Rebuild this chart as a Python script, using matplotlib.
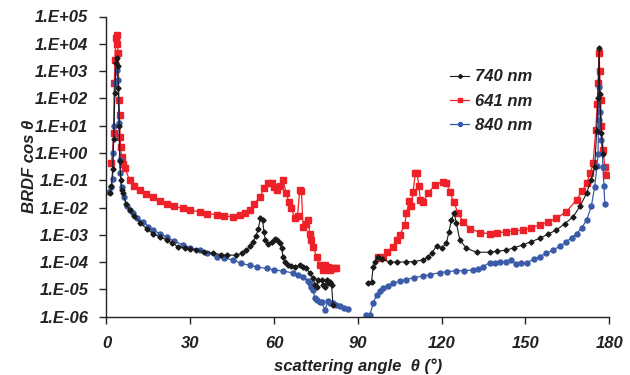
import numpy as np
import matplotlib
matplotlib.use('Agg')
import matplotlib.pyplot as plt

plt.rcParams['font.family'] = ['Liberation Sans', 'DejaVu Sans']
plt.rcParams['font.weight'] = 'bold'
plt.rcParams['font.style'] = 'italic'

# 641 nm (red)
red_ang = [1.8, 2.6, 2.8, 3.0, 3.3, 3.6, 3.9, 4.2, 4.4, 4.7, 4.9, 5.1, 5.4, 5.9, 6.6, 8.3, 10, 11.9, 14,
           16.7, 19, 21.5, 24, 27.4, 30, 33.4, 36, 39.4, 42, 45.3, 47.7, 49.5, 51.3, 53, 54.9, 56.5,
           57.9, 59.1, 60.1, 60.9, 62.2, 63.2, 64.4, 65.3, 66.2, 67.4, 68.4, 69.2, 69.8, 70.4, 71.4,
           72.2, 72.8, 73.4, 74.0, 75.2, 76.4, 77.6, 78.4, 79.3, 80.0, 80.6, 81.7, 82.3,
           None,
           97.2, 97.9, 99.0, 100.3, 102.6, 104, 105.0, 106.8, 107.4, 108.4, 109.2, 109.8, 110.6, 111.2,
           111.8, 112.4, 113.4, 115.1, 117.5, 120.5, 121.7, 122.9, 124.3, 125.9, 127.7, 130.1, 133.7,
           137.2, 140, 143.2, 146, 149.2, 152, 155.1, 158, 161.1, 164.7, 168.3, 170.3, 171.9, 173.2,
           174.2, 175.2, 175.7, 176.0, 176.4, 176.6, 176.9, 177.2, 177.8, 178.4, 179.0]
red_val = [0.42, 5.2, 355, 2500, 1.6e4, 2.1e4, 1.0e4, 4500, 87, 25, 3.9, 1.7, 0.72, 0.40, 0.28, 0.10,
           0.063, 0.044, 0.032, 0.025, 0.018, 0.014, 0.011, 0.0093, 0.0079, 0.0071, 0.006, 0.0054,
           0.0049, 0.0046, 0.0054, 0.0063, 0.0081, 0.0135, 0.025, 0.05, 0.078, 0.078, 0.056, 0.044,
           0.063, 0.10, 0.033, 0.016, 0.0093, 0.004, 0.005, 0.044, 0.04, 0.002, 0.0025, 0.0035,
           0.0011, 6.5e-4, 3.6e-4, 1.6e-4, 7.8e-5, 5.1e-5, 7.8e-5, 6.8e-5, 5.1e-5, 6.3e-5, 5.9e-5,
           5.9e-5,
           None,
           1.6e-4, 1.4e-4, 1.6e-4, 2.4e-4, 3.6e-4, 6.3e-4, 9.8e-4, 2.3e-3, 6.2e-3, 0.018, 0.011,
           0.038, 0.19, 0.19, 0.062, 0.019, 0.016, 0.033, 0.066, 0.089, 0.081, 0.038, 0.016, 0.0062,
           0.003, 0.0017, 0.0012, 0.0011, 0.00117, 0.0013, 0.00138, 0.0015, 0.0018, 0.0023, 0.003,
           0.004, 0.0071, 0.019, 0.04, 0.078, 0.18, 0.42, 6.9, 63, 355, 4500, 1000, 87, 10, 1.3,
           0.31, 0.155]

# 740 nm (black)
blk_ang = [1.2, 1.8, 2.2, 2.6, 3.0, 3.4, 3.7, 4.0, 4.3, 4.6, 4.8, 5.1, 5.4, 5.9, 7.0, 8.3, 10, 12,
           14.5, 16.7, 19, 21.5, 23.5, 25.6, 28, 30, 32.2, 35, 38.2, 41, 43, 46.5, 48.5, 50.1, 51.5,
           52.5, 53.5, 54.3, 55.1, 55.9, 56.4, 56.9, 58.0, 59.1, 60.2, 60.9, 62.0, 62.7, 63.2, 64.0,
           65.0, 66.2, 67.4, 69.2, 70.4, 71.6, 72.8, 74.0, 74.6, 75.2, 75.8, 77.0, 77.6, 78.2, 78.8,
           79.3, 80.0, 80.6, 81.1,
           None,
           93.7, 94.9, 95.5, 96.1, 97.2, 98.5, 101.4, 104, 107.4, 110, 113.4, 115, 116.4, 118.2, 120.0,
           121.7, 122.6, 123.5, 124.5, 125.3, 126.5, 128.9, 132.5, 137.2, 140, 143.2, 146, 149.2, 152,
           155.1, 158, 161.1, 164, 167.1, 169.5, 171.9, 173.5, 174.8, 175.5, 176.0, 176.4, 176.6,
           177.2, 177.8]
blk_val = [0.035, 0.063, 0.25, 3.2, 160, 2000, 3000, 1600, 230, 10, 0.5, 0.1, 0.044, 0.033, 0.014,
           0.0081, 0.005, 0.0028, 0.0016, 0.0011, 8.3e-4, 6.5e-4, 5e-4, 3.6e-4, 3.3e-4, 3e-4,
           2.75e-4, 2.4e-4, 2.1e-4, 1.9e-4, 1.8e-4, 1.8e-4, 2.1e-4, 2.75e-4, 4e-4, 5.6e-4, 8.9e-4,
           1.6e-3, 4e-3, 3.5e-3, 1.26e-3, 6.5e-4, 4.5e-4, 5.6e-4, 6.8e-4, 6.5e-4, 4.9e-4, 3.2e-4,
           1.6e-4, 1e-4, 7.8e-5, 7.1e-5, 6.8e-5, 7.6e-5, 6.8e-5, 5.9e-5, 3.9e-5, 2.6e-5, 1.45e-5,
           1.26e-5, 2.2e-5, 2.2e-5, 1.45e-5, 1.26e-5, 2.2e-5, 1.66e-5, 1.8e-5, 1.45e-5, 2.7e-6,
           None,
           1.66e-5, 1.9e-5, 6.8e-5, 1.02e-4, 1.6e-4, 1.26e-4, 1.02e-4, 1e-4, 1.02e-4, 1.05e-4, 1.2e-4,
           1.5e-4, 2.1e-4, 3.9e-4, 3.2e-4, 4.9e-4, 1.26e-3, 3.5e-3, 6.2e-3, 2.6e-3, 6.5e-4, 3.2e-4,
           2.3e-4, 2.3e-4, 2.5e-4, 2.75e-4, 3.4e-4, 4.3e-4, 5.6e-4, 7.4e-4, 1.05e-3, 1.5e-3, 2.5e-3,
           4.6e-3, 0.011, 0.033, 0.1, 0.31, 6.3, 100, 6800, 150, 5.2, 0.95]

# 840 nm (blue)
blu_ang = [0.9, 1.8, 2.2, 2.4, 2.6, 3.0, 3.6, 4.2, 4.4, 4.8, 5.0, 5.4, 6.2, 7.2, 8.3, 9.5, 11, 13.1,
           15, 16.7, 19, 21.5, 24, 27.4, 30, 33.4, 36, 39.4, 42, 45.3, 48, 51.3, 54, 57.3, 60, 63.2,
           66.8, 68.6, 70.4, 72, 72.8, 73.4, 74.0, 74.6, 75.2, 76.4, 77.0, 78.2, 79.3, 80.2, 81.1,
           82.3, 83.5, 85, 86.5,
           None,
           93.1, 94.3, 95.5, 96.7, 98, 99.0, 100.8, 102.6, 105, 107.4, 110, 113.4, 116, 119.3, 122,
           125.3, 128, 131.3, 133, 134.8, 137.2, 139, 140.8, 143.2, 145.0, 146.8, 148.5, 150.4, 153,
           155.1, 157.5, 159.9, 162.3, 164.7, 166.5, 168.3, 170.2, 171.9, 173.6, 174.8, 175.6, 176.0,
           176.2, 176.4, 176.8, 177.2, 177.8, 178.1, 178.4]
blu_val = [0.038, 0.058, 0.11, 1.0, 10, 355, 1100, 470, 12, 0.55, 0.18, 0.058, 0.025, 0.011, 0.0079,
           0.0062, 0.0042, 0.003, 0.002, 0.0015, 0.0011, 8.5e-4, 6e-4, 4.3e-4, 3.4e-4, 2.75e-4,
           2.2e-4, 1.6e-4, 1.4e-4, 1.2e-4, 9.1e-5, 7.6e-5, 6.6e-5, 5.9e-5, 5.2e-5, 4.7e-5, 4e-5,
           3.3e-5, 2.75e-5, 2.1e-5, 1.66e-5, 1.26e-5, 9.5e-6, 4.7e-6, 4.1e-6, 3.5e-6, 3.5e-6, 1.8e-6,
           3.7e-6, 3.2e-6, 3.1e-6, 2.7e-6, 2.45e-6, 2.1e-6, 1.9e-6,
           None,
           1.15e-6, 1.15e-6, 3.1e-6, 6.2e-6, 8.9e-6, 1.1e-5, 1.38e-5, 1.66e-5, 2e-5, 2.3e-5, 2.7e-5,
           3.1e-5, 3.5e-5, 4.1e-5, 4.5e-5, 4.8e-5, 4.9e-5, 5.1e-5, 5.6e-5, 6.8e-5, 9.5e-5, 9.3e-5,
           1.02e-4, 1.02e-4, 1.2e-4, 8.5e-5, 8.9e-5, 9.5e-5, 1.26e-4, 1.6e-4, 2.1e-4, 2.75e-4,
           3.8e-4, 5.6e-4, 7.9e-4, 1.1e-3, 1.8e-3, 3.5e-3, 0.011, 0.058, 0.32, 0.95, 16, 260, 32,
           3.0, 0.31, 0.063, 0.014]

yticks = [1e-6, 1e-5, 1e-4, 1e-3, 1e-2, 1e-1, 1e0, 1e1, 1e2, 1e3, 1e4, 1e5]
ytick_labels = ['1.E-06', '1.E-05', '1.E-04', '1.E-03', '1.E-02', '1.E-01',
                '1.E+00', '1.E+01', '1.E+02', '1.E+03', '1.E+04', '1.E+05']
xticks = [0, 30, 60, 90, 120, 150, 180]


def arr(a):
    return np.array([np.nan if v is None else v for v in a], dtype=float)


fig = plt.figure(figsize=(6.3, 3.75), dpi=100)
ax = fig.add_axes([0.169, 0.1555, 0.798, 0.8005])

red_c = '#ee2028'
blu_c = '#3b5ba8'
blk_c = '#1a1a1a'

l_red, = ax.plot(arr(red_ang), arr(red_val), color=red_c, lw=0.9, marker='s', ms=4.2,
                 mec=red_c, mfc=red_c, label='641 nm')
l_blu, = ax.plot(arr(blu_ang), arr(blu_val), color=blu_c, lw=0.9, marker='o', ms=3.6,
                 mec=blu_c, mfc=blu_c, label='840 nm')
l_blk, = ax.plot(arr(blk_ang), arr(blk_val), color=blk_c, lw=0.8, marker='D', ms=2.6,
                 mec=blk_c, mfc=blk_c, label='740 nm')

ax.set_yscale('log')
ax.set_ylim(1e-6, 1e5)
ax.set_xlim(0, 180)
ax.set_yticks(yticks)
ax.set_yticklabels(ytick_labels)
ax.yaxis.set_minor_locator(matplotlib.ticker.NullLocator())
ax.set_xticks(xticks)
ax.set_xticklabels([str(t) for t in xticks])

for s in ['top', 'right']:
    ax.spines[s].set_visible(False)
for s in ['left', 'bottom']:
    ax.spines[s].set_color('#222222')
    ax.spines[s].set_linewidth(1.0)
ax.tick_params(axis='both', direction='out', length=5, width=1, colors='#222222',
               labelsize=12, labelcolor='#222222')
ax.tick_params(axis='x', pad=9)
ax.tick_params(axis='y', pad=8)

ax.set_xlabel('scattering angle  θ (°)', fontsize=12, fontweight='bold', style='italic',
              color='#222222')
ax.set_ylabel('BRDF cos θ', fontsize=12, fontweight='bold', style='italic',
              color='#222222')
ax.xaxis.set_label_coords(0.5, -0.14)
ax.yaxis.set_label_coords(-0.139, 0.5)

leg = ax.legend([l_blk, l_red, l_blu], ['740 nm', '641 nm', '840 nm'], frameon=False,
                loc='upper left', bbox_to_anchor=(0.715, 0.815), bbox_transform=fig.transFigure,
                fontsize=12, handlelength=1.1, handletextpad=0.4, labelspacing=0.55,
                borderpad=0, borderaxespad=0, markerscale=0.8)
for t in leg.get_texts():
    t.set_color('#222222')

fig.savefig('out.png', dpi=100)
